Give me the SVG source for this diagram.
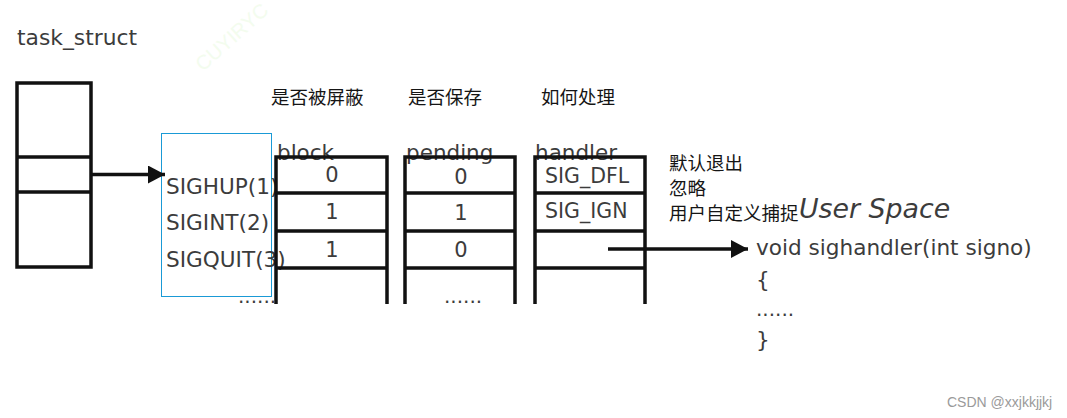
<svg xmlns="http://www.w3.org/2000/svg" width="1067" height="418" viewBox="0 0 1067 418">
<style>
.t{font-family:"DejaVu Sans",sans-serif;fill:#3c3c3c}
.cn{font-family:"Noto Sans CJK SC",sans-serif;fill:#151515;font-size:18.5px}
.ln{stroke:#111;stroke-width:3.5;fill:none}
.v{font-size:21px;text-anchor:middle}
</style>
<defs>
<marker id="ah" markerWidth="17" markerHeight="18" refX="17" refY="9" orientation="auto" markerUnits="userSpaceOnUse">
<path d="M0,0 L17,9 L0,18 Z" fill="#111"/>
</marker>
</defs>
<rect width="1067" height="418" fill="#fff"/>
<text x="203" y="72" transform="rotate(-42 203 72)" font-family="Liberation Sans,sans-serif" font-size="20" fill="#f3fcee">CUYIRYC</text>

<g id="task_struct">
<text class="t" x="17" y="45" font-size="21.8">task_struct</text>
<rect class="ln" x="17" y="83" width="74" height="184"/>
<line class="ln" x1="17" y1="157" x2="91" y2="157"/>
<line class="ln" x1="17" y1="192" x2="91" y2="192"/>
</g>

<g id="signals">
<rect x="161.5" y="133.5" width="110" height="163" fill="none" stroke="#1a9ad6" stroke-width="1"/>
<text class="t" x="166" y="194" font-size="21.6">SIGHUP(1)</text>
<text class="t" x="166" y="230" font-size="21.6">SIGINT(2)</text>
<text class="t" x="166" y="267" font-size="21.6">SIGQUIT(3)</text>
</g>

<g id="headings">
<text class="cn" x="271" y="104">是否被屏蔽</text>
<text class="cn" x="408" y="104">是否保存</text>
<text class="cn" x="541" y="104">如何处理</text>
</g>

<g id="block">
<text class="t" x="277" y="160" font-size="21.5">block</text>
<path class="ln" d="M276,304 V157 H387 V304 M276,193 H387 M276,231 H387 M276,268 H387"/>
<text class="t v" x="332" y="182">0</text>
<text class="t v" x="332" y="219">1</text>
<text class="t v" x="332" y="257">1</text>
<text class="t" x="238" y="303" font-size="20">......</text>
</g>

<g id="pending">
<text class="t" x="406" y="160" font-size="21.5">pending</text>
<path class="ln" d="M405,304 V157 H515 V304 M405,193 H515 M405,231 H515 M405,268 H515"/>
<text class="t v" x="461" y="184">0</text>
<text class="t v" x="461" y="220">1</text>
<text class="t v" x="461" y="257">0</text>
<text class="t" x="444" y="303" font-size="20">......</text>
</g>

<g id="handler">
<text class="t" x="535" y="160" font-size="21.5">handler</text>
<path class="ln" d="M535,304 V157 H645 V304 M535,193 H645 M535,231 H645 M535,268 H645"/>
<text class="t" x="545" y="183" font-size="20.5">SIG_DFL</text>
<text class="t" x="545" y="218" font-size="20.5">SIG_IGN</text>
</g>

<g id="notes">
<text class="cn" x="669" y="170">默认退出</text>
<text class="cn" x="669" y="195">忽略</text>
<text class="cn" x="669" y="220">用户自定义捕捉</text>
</g>

<g id="user_space">
<text class="t" x="799" y="218" font-size="26.8" font-style="italic">User Space</text>
<text class="t" x="756" y="255" font-size="21.6">void sighandler(int signo)</text>
<text class="t" x="756" y="287" font-size="21.6">{</text>
<text class="t" x="756" y="316" font-size="20">......</text>
<text class="t" x="756" y="347" font-size="21.6">}</text>
</g>

<g id="connectors">
<line class="ln" x1="91" y1="174.5" x2="165" y2="174.5" marker-end="url(#ah)"/>
<line class="ln" x1="608" y1="249" x2="748" y2="249" marker-end="url(#ah)"/>
</g>

<text x="947" y="407" font-family="Liberation Sans,sans-serif" font-size="14" fill="#9a9a9a">CSDN @xxjkkjjkj</text>
</svg>
